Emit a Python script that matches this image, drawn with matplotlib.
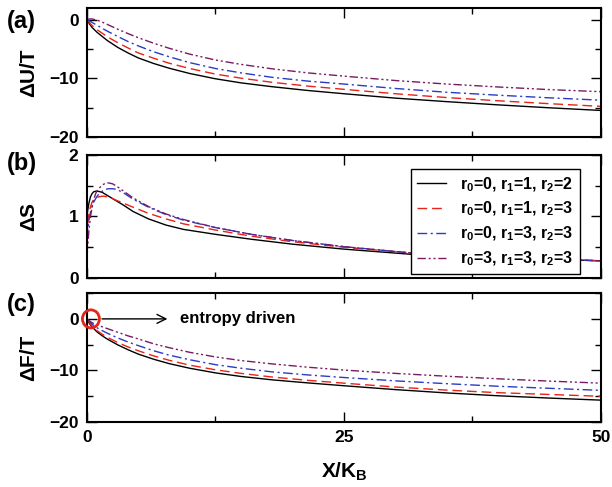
import matplotlib
matplotlib.use("Agg")
import matplotlib.pyplot as plt
from matplotlib.patches import Ellipse
from matplotlib.ticker import MultipleLocator

plt.rcParams["font.family"] = ["Liberation Sans", "DejaVu Sans"]
plt.rcParams["font.weight"] = "bold"
plt.rcParams["axes.labelweight"] = "bold"
plt.rcParams["mathtext.fontset"] = "custom"
plt.rcParams["mathtext.rm"] = "Liberation Sans:bold"
plt.rcParams["mathtext.bf"] = "Liberation Sans:bold"
plt.rcParams["mathtext.default"] = "rm"

labels = [r"r$_0$=0, r$_1$=1, r$_2$=2",
          r"r$_0$=0, r$_1$=1, r$_2$=3",
          r"r$_0$=0, r$_1$=3, r$_2$=3",
          r"r$_0$=3, r$_1$=3, r$_2$=3"]
colors = ["black", "#e8231a", "#2b3bc4", "#7a1a63"]
dashes = [(None, None), (7, 3.5), (7, 2.5, 1.5, 2.5), (6, 2, 1.5, 2, 1.5, 2)]

# energy and free energy curves
x_uf = [0, 0.25, 0.5, 1, 1.5, 2, 3, 4, 5, 6.5, 8, 10, 12.5, 15, 18, 21.5, 25, 30, 35, 40, 45, 50]
du_t = [
    [0, -0.75, -1.35, -2.2, -2.9, -3.6, -4.75, -5.7, -6.55, -7.5, -8.3, -9.2, -10.1,
     -10.8, -11.45, -12.1, -12.65, -13.4, -14.0, -14.55, -15.05, -15.5],
    [0, -0.55, -1.0, -1.75, -2.35, -2.95, -3.95, -4.85, -5.7, -6.6, -7.45, -8.35, -9.3,
     -10.0, -10.7, -11.35, -11.9, -12.65, -13.3, -13.85, -14.35, -14.8],
    [0, -0.25, -0.5, -1.0, -1.5, -2.0, -2.9, -3.75, -4.5, -5.5, -6.35, -7.35, -8.35,
     -9.1, -9.85, -10.5, -11.0, -11.75, -12.4, -12.9, -13.35, -13.75],
    [0, 0.1, 0.1, -0.1, -0.45, -0.85, -1.65, -2.4, -3.1, -4.05, -4.9, -5.9, -6.9,
     -7.65, -8.4, -9.1, -9.65, -10.4, -11.0, -11.5, -11.95, -12.3],
]
df_t = [
    [0, -0.9, -1.55, -2.55, -3.3, -3.95, -5.05, -6.0, -6.85, -7.85, -8.7, -9.6, -10.5,
     -11.2, -11.85, -12.45, -13.0, -13.75, -14.4, -14.95, -15.4, -15.8],
    [0, -0.75, -1.35, -2.3, -3.0, -3.6, -4.6, -5.45, -6.2, -7.2, -8.05, -9.0, -9.9,
     -10.6, -11.3, -11.95, -12.5, -13.25, -13.85, -14.35, -14.7, -15.05],
    [0, -0.55, -1.0, -1.75, -2.3, -2.8, -3.7, -4.5, -5.2, -6.2, -7.05, -7.95, -8.9,
     -9.6, -10.3, -10.9, -11.4, -12.05, -12.6, -13.1, -13.5, -13.9],
    [0, -0.4, -0.75, -1.2, -1.55, -1.9, -2.6, -3.3, -3.9, -4.85, -5.6, -6.5, -7.4,
     -8.1, -8.75, -9.4, -9.95, -10.6, -11.15, -11.65, -12.1, -12.5],
]

# entropy curves
x_s = [0, 0.1, 0.2, 0.35, 0.5, 0.65, 0.85, 1.0, 1.2, 1.5, 1.8, 2.1, 2.5, 2.9,
       3.5, 4.5, 6, 7.7, 9.4, 12.5, 16, 20, 25, 32, 40, 50]
ds = [
    [1.0, 1.12, 1.22, 1.32, 1.37, 1.40, 1.41, 1.41, 1.405, 1.39, 1.36, 1.33, 1.29, 1.25,
     1.19, 1.08, 0.96, 0.86, 0.79, 0.71, 0.63, 0.55, 0.47, 0.38, 0.33, 0.28],
    [0.65, 0.88, 1.06, 1.16, 1.23, 1.27, 1.30, 1.31, 1.32, 1.33, 1.325, 1.31, 1.29, 1.26,
     1.22, 1.15, 1.05, 0.96, 0.88, 0.78, 0.68, 0.59, 0.50, 0.40, 0.34, 0.28],
    [0.63, 0.80, 0.95, 1.07, 1.16, 1.23, 1.29, 1.33, 1.37, 1.41, 1.44, 1.45, 1.45, 1.44,
     1.39, 1.28, 1.15, 1.03, 0.94, 0.82, 0.71, 0.61, 0.51, 0.40, 0.34, 0.28],
    [0.30, 0.57, 0.78, 1.0, 1.15, 1.27, 1.37, 1.42, 1.46, 1.51, 1.54, 1.545, 1.53, 1.49,
     1.42, 1.30, 1.16, 1.04, 0.95, 0.82, 0.71, 0.61, 0.51, 0.40, 0.34, 0.28],
]

fig = plt.figure(figsize=(6.12, 4.87), dpi=100)
ax_a = fig.add_axes([0.142, 0.719, 0.840, 0.265])
ax_b = fig.add_axes([0.142, 0.429, 0.840, 0.253])
ax_c = fig.add_axes([0.142, 0.134, 0.840, 0.264])


def style(ax, ylim, major, minor):
    ax.set_xlim(0, 50)
    ax.set_ylim(*ylim)
    ax.xaxis.set_major_locator(MultipleLocator(25))
    ax.xaxis.set_minor_locator(MultipleLocator(12.5))
    ax.yaxis.set_major_locator(MultipleLocator(major))
    ax.yaxis.set_minor_locator(MultipleLocator(minor))
    ax.tick_params(which="both", direction="in", top=True, right=True,
                   labelsize=12.5, width=1.0, pad=6)
    ax.tick_params(which="major", length=7.5)
    ax.tick_params(which="minor", length=4)
    for sp in ax.spines.values():
        sp.set_linewidth(1.5)
    ax.yaxis.set_label_coords(-0.094, 0.5)


def draw(ax, x, ys, with_labels=False):
    for i, y in enumerate(ys):
        kw = dict(color=colors[i], lw=1.0)
        if with_labels:
            kw["label"] = labels[i]
        line, = ax.plot(x, y, **kw)
        if dashes[i][0] is not None:
            line.set_dashes(dashes[i])


draw(ax_a, x_uf, du_t)
style(ax_a, (-20, 2), 10, 5)
ax_a.set_xticklabels([])
ax_a.set_ylabel("ΔU/T", fontsize=15)

draw(ax_b, x_s, ds, with_labels=True)
style(ax_b, (0, 2), 1, 0.5)
ax_b.set_xticklabels([])
ax_b.set_ylabel("ΔS", fontsize=15)
leg = ax_b.legend(loc="upper right", bbox_to_anchor=(0.959, 0.887), borderaxespad=0,
                  fontsize=11.5, handlelength=1.8, labelspacing=0.4, fancybox=False,
                  framealpha=1, edgecolor="black", borderpad=0.4, handletextpad=0.9)
leg.get_frame().set_linewidth(1.0)

draw(ax_c, x_uf, df_t)
style(ax_c, (-20, 5), 10, 5)
ax_c.set_ylabel("ΔF/T", fontsize=15)
ax_c.set_xlabel(r"X/K$_\mathregular{B}$", fontsize=15, labelpad=11)

ax_c.add_patch(Ellipse((0.39, 0), 1.65, 3.5, fill=False, edgecolor="#e8231a",
                       lw=2.0, clip_on=False, zorder=5))
ax_c.annotate("", xy=(8.1, 0), xytext=(1.2, 0),
              arrowprops=dict(arrowstyle="->", color="black", lw=1.0,
                              mutation_scale=16))
ax_c.text(9.1, 0, "entropy driven", fontsize=12, va="center", ha="left")

for lab, y in (("(a)", 0.955), ("(b)", 0.665), ("(c)", 0.374)):
    fig.text(0.012, y, lab, fontsize=17, va="center", ha="left")

fig.savefig("out.png", dpi=100)
